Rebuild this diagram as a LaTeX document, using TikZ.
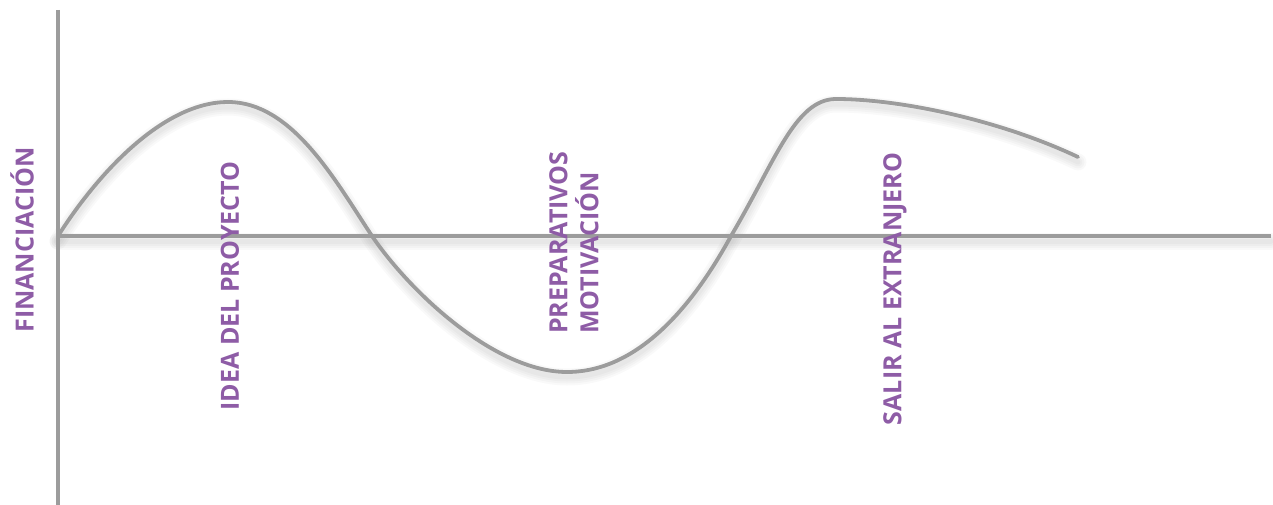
\documentclass[tikz,border=0pt]{standalone}
\usepackage{fontspec}
\setmainfont{Open Sans}
\usetikzlibrary{positioning,calc}
\definecolor{labpurple}{HTML}{8E5CA6}
\definecolor{axgray}{HTML}{9C9C9C}

\begin{document}
\begin{tikzpicture}[x=1pt,y=-1pt,
    axis/.style={draw=axgray, line width=3.5pt},
    wave/.style={draw=axgray, line width=3.8pt, line cap=round},
    shade/.style={draw=black, opacity=0.022, line width=#1, line cap=round},
    lab/.style={text=labpurple, font=\fontsize{25}{31}\selectfont\bfseries, rotate=90, inner sep=0pt, align=left}
]
    \useasboundingbox (0,0) rectangle (1273,505);

    \coordinate (o) at (58,236);
    \coordinate (ytop) at (58,10);
    \coordinate (ybot) at (58,505);
    \coordinate (xend) at (1271,236);

    \coordinate (peaka) at (228,102);
    \coordinate (crossa) at (372,236);
    \coordinate (trough) at (567,372);
    \coordinate (crossb) at (731,236);
    \coordinate (peakb) at (836,99);
    \coordinate (tail) at (1078,157);

    % soft shadow below the lines
    \foreach \w in {5pt,9pt,13pt,17pt} {
        \draw[shade=\w] ([yshift=-5]o) -- ([yshift=-5]xend);
        \draw[shade=\w] ([yshift=-5]o) .. controls (100,175) and (165,107) .. ([yshift=-5]peaka)
            .. controls (292,107) and (335,185) .. ([yshift=-5]crossa)
            .. controls (410,297) and (495,377) .. ([yshift=-5]trough)
            .. controls (640,377) and (695,307) .. ([yshift=-5]crossb)
            .. controls (775,167) and (795,104) .. ([yshift=-5]peakb)
            .. controls (900,104) and (1000,125) .. ([yshift=-5]tail);
    }

    \draw[axis] (ytop) -- (ybot);
    \draw[axis] (o) -- (xend);

    \draw[wave] (o) .. controls (100,170) and (165,102) .. (peaka)
        .. controls (292,102) and (335,180) .. (crossa)
        .. controls (410,292) and (495,372) .. (trough)
        .. controls (640,372) and (695,302) .. (crossb)
        .. controls (775,162) and (795,99) .. (peakb)
        .. controls (900,99) and (1000,120) .. (tail);

    \node[lab] (fin) at (22,240) {FINANCIACIÓN};
    \node[lab] (idea) at (230,286) {IDEA DEL PROYECTO};
    \node[lab, anchor=west] (prep) at (574,334) {PREPARATIVOS\\MOTIVACIÓN};
    \node[lab] (salir) at (895,289) {SALIR AL EXTRANJERO};
\end{tikzpicture}
\end{document}
